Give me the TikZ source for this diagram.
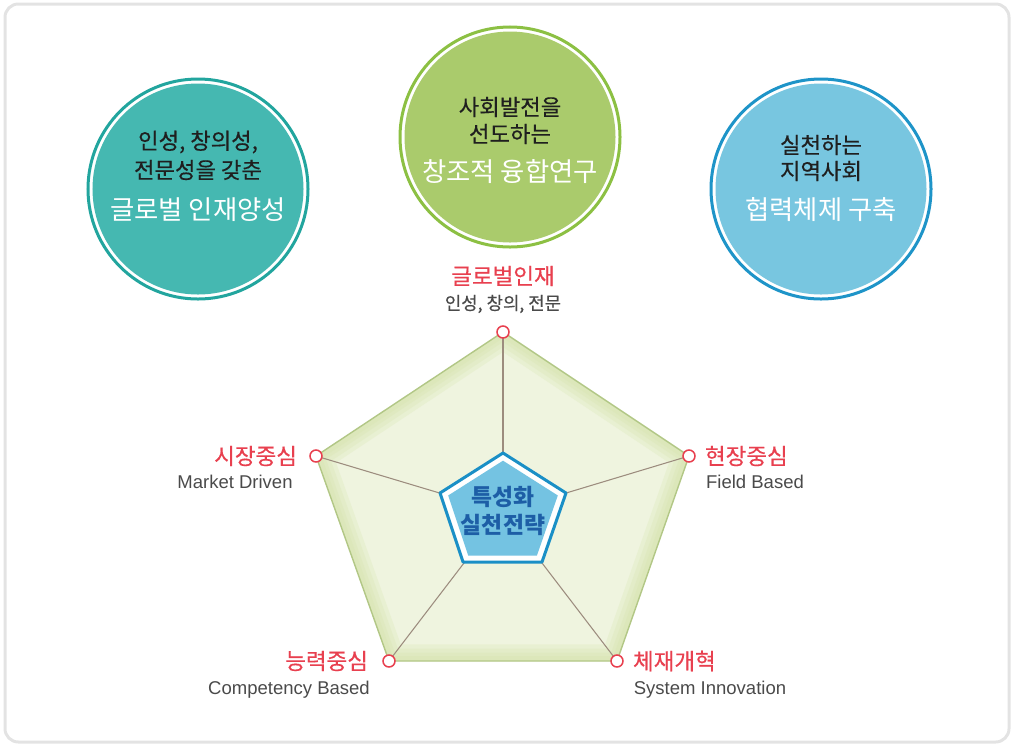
\documentclass[tikz,border=0pt]{standalone}
\usepackage{fontspec}
\setmainfont{Noto Sans CJK KR}
\newfontfamily\kormed[FakeBold=0.4]{Noto Sans CJK KR}
\newfontfamily\latinsans{Liberation Sans}
\usepackage{tikz}
\usetikzlibrary{positioning}

\definecolor{frameline}{HTML}{E3E3E3}
\definecolor{tealring}{HTML}{22A59E}
\definecolor{tealfill}{HTML}{45B8B1}
\definecolor{greenring}{HTML}{8CC043}
\definecolor{greenfill}{HTML}{AACB6C}
\definecolor{bluering}{HTML}{1E94C8}
\definecolor{bluefill}{HTML}{78C6E0}
\definecolor{labelred}{HTML}{E8404F}
\definecolor{labelgray}{HTML}{4A4A4A}
\definecolor{pentfill}{HTML}{EFF4DF}
\definecolor{pentedge}{HTML}{D3E2A6}
\definecolor{pentline}{HTML}{B2C786}
\definecolor{spoke}{HTML}{9C8C7E}
\definecolor{coreline}{HTML}{1A8FC6}
\definecolor{corefill}{HTML}{74C3E2}
\definecolor{coretext}{HTML}{1D5EA6}

\def\outerpent{(503,332) -- (689,456) -- (617,661) -- (389,661) -- (316,456) -- cycle}
\def\innerpent{(503,453) -- (566,493) -- (542,562) -- (463,562) -- (440,493) -- cycle}

\begin{document}
\begin{tikzpicture}[x=0.03cm, y=-0.03cm,
		ring/.style = {circle, draw=#1, line width=0.09cm, fill=white, minimum size=6.6cm, inner sep=0},
		disc/.style = {circle, fill=#1, minimum size=6.33cm, inner sep=0},
		lead/.style = {inner sep=0, font=\kormed\fontsize{19}{21}\selectfont, text=black!88},
		goal/.style = {inner sep=0, font=\fontsize{22.5}{25}\selectfont, text=white},
		vtx/.style = {circle, draw=labelred, fill=white, line width=1.3pt, minimum size=0.36cm, inner sep=0},
		kor/.style = {inner sep=0, font=\kormed\fontsize{19.2}{21}\selectfont, text=labelred},
		sub/.style = {inner sep=0, font=\kormed\fontsize{15.2}{17}\selectfont, text=labelgray},
		eng/.style = {inner sep=0, font=\latinsans\fontsize{15.8}{18}\selectfont, text=labelgray}]
	\useasboundingbox (0,0) rectangle (1013,744);
	\draw[frameline, line width=0.09cm, rounded corners=0.4cm] (5,4) rectangle (1009,742);

	% three goals
	\node[ring=tealring] (talent) at (198,189) {};
	\node[disc=tealfill] at (talent) {};
	\node[lead] (talent1) at (198,142) {인성, 창의성,};
	\node[lead] (talent2) at (198,170) {전문성을 갖춘};
	\node[goal] (talent3) at (198,210) {글로벌 인재양성};

	\node[ring=greenring] (research) at (510,137) {};
	\node[disc=greenfill] at (research) {};
	\node[lead] (research1) at (510,107) {사회발전을};
	\node[lead] (research2) at (510,134) {선도하는};
	\node[goal] (research3) at (510,172) {창조적 융합연구};

	\node[ring=bluering] (region) at (821,189) {};
	\node[disc=bluefill] at (region) {};
	\node[lead] (region1) at (821,145) {실천하는};
	\node[lead] (region2) at (821,171) {지역사회};
	\node[goal] (region3) at (821,210) {협력체제 구축};

	% pentagon
	\coordinate (c) at (503,512);
	\coordinate (p1) at (503,332);
	\coordinate (p2) at (689,456);
	\coordinate (p3) at (617,661);
	\coordinate (p4) at (389,661);
	\coordinate (p5) at (316,456);
	\begin{scope}
		\clip \outerpent;
		\fill[pentfill] \outerpent;
		\foreach \w in {1.0,0.75,0.5,0.3}
			\draw[pentedge, line width=\w cm, opacity=0.22, line join=round] \outerpent;
	\end{scope}
	\draw[pentline, line width=1.2pt, line join=round] \outerpent;
	\foreach \p in {p1,p2,p3,p4,p5}
		\draw[spoke, line width=0.9pt] (\p) -- (c);
	\draw[coreline, line width=0.09cm, fill=white, line join=round] \innerpent;
	\fill[corefill, scale around={0.87:(503,512)}] \innerpent;
	\node[align=center, inner sep=0, font=\bfseries\fontsize{19.5}{24}\selectfont, text=coretext] (core) at (503,511) {특성화\\실천전략};

	% vertices
	\node[vtx] (global) at (p1) {};
	\node[vtx] (field) at (p2) {};
	\node[vtx] (system) at (p3) {};
	\node[vtx] (compet) at (p4) {};
	\node[vtx] (market) at (p5) {};

	\node[kor] (globalK) at (503,276) {글로벌인재};
	\node[sub] (globalS) at (503,304) {인성, 창의, 전문};
	\node[kor, right=0.27cm of field] (fieldK) {현장중심};
	\node[eng] (fieldE) at (755,482) {Field Based};
	\node[kor, right=0.27cm of system] (systemK) {체재개혁};
	\node[eng] (systemE) at (710,690) {System Innovation};
	\node[kor, left=0.42cm of compet] (competK) {능력중심};
	\node[eng] (competE) at (289,690) {Competency Based};
	\node[kor, left=0.36cm of market] (marketK) {시장중심};
	\node[eng] (marketE) at (235,482) {Market Driven};
\end{tikzpicture}
\end{document}
